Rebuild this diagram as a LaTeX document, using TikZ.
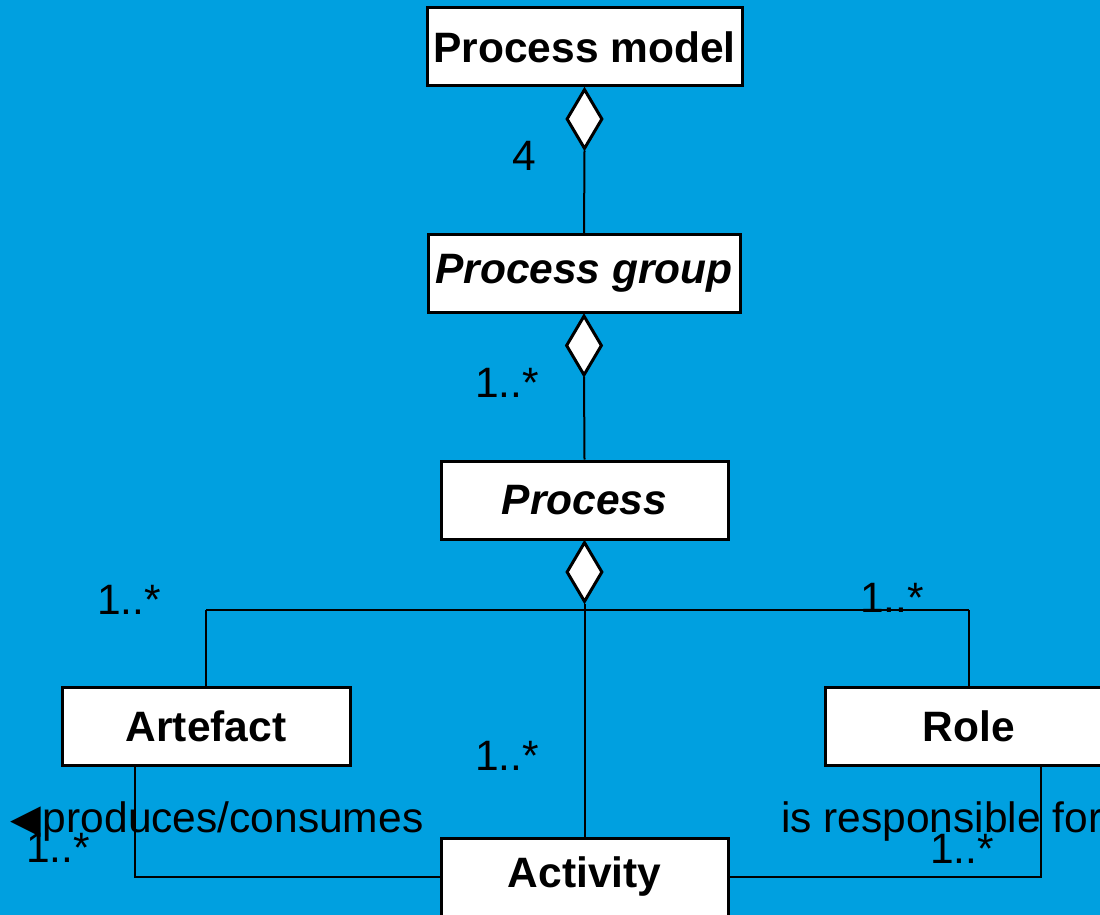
\documentclass[tikz,border=0pt]{standalone}
\usepackage{fontspec}
\setmainfont{Liberation Sans}
\newfontfamily\symfont{DejaVu Sans}
\usetikzlibrary{shapes.geometric}
\definecolor{bgblue}{RGB}{0,160,224}
\tikzset{
  classbox/.style={draw=black, line width=3pt, fill=white, inner sep=0pt,
    minimum height=78pt, font=\fontsize{42.5}{50}\selectfont\bfseries},
  agg/.style={draw=black, line width=3pt, fill=white, diamond, inner sep=0pt,
    minimum width=36pt, minimum height=60pt, aspect=0.6},
  link/.style={draw=black, line width=2pt},
  mult/.style={inner sep=0pt, anchor=base west, font=\fontsize{42.5}{50}\selectfont},
}
\begin{document}
\begin{tikzpicture}[x=1pt,y=-1pt]
\useasboundingbox (0,0) rectangle (1100,915);
\clip (0,0) rectangle (1100,915);
\fill[bgblue] (0,0) rectangle (1100,915);

% classes
\node[classbox, minimum width=315pt] (model) at (584.5,47) {Process model};
\node[classbox, minimum width=312pt] (group) at (584,273.5) {\itshape Process group};
\node[classbox, minimum width=287pt] (proc) at (584.5,500) {\itshape Process};
\node[classbox, minimum width=288pt] (art) at (206,726) {Artefact};
\node[classbox, minimum width=288pt] (role) at (969,726) {Role};
\node[classbox, minimum width=287pt] (act) at (584.5,877) {Activity};

% aggregation diamonds
\node[agg, anchor=north] (d1) at (model.south) {};
\node[agg, anchor=north] (d2) at (group.south) {};
\node[agg, anchor=north] (d3) at (proc.south) {};

\coordinate (barL) at (206,610);
\coordinate (barR) at (969,610);
\coordinate (artDown) at (135,877);
\coordinate (roleDown) at (1041,877);

\draw[link] (d1.south) -- (group.north);
\draw[link] (d2.south) -- (proc.north);
\draw[link] (d3.south) -- (act.north);
\draw[link] (barL) -- (barR);
\draw[link] (barL) -- (art.north);
\draw[link] (barR) -- (role.north);
\draw[link] (art.south -| artDown) -- (artDown) -- (act.west);
\draw[link] (role.south -| roleDown) -- (roleDown) -- (act.east);

% multiplicities and association names
\node[mult] (m1) at (512,170) {4};
\node[mult] (m2) at (475,397) {1..*};
\node[mult] (m3) at (97,614) {1..*};
\node[mult] (m4) at (860,612) {1..*};
\node[mult] (m5) at (475,770) {1..*};
\node[mult] (n1) at (10,832) {{\symfont\fontsize{40}{44}\selectfont ◀}\hspace{2pt}produces/consumes};
\node[mult] (m6) at (26,862) {1..*};
\node[mult] (n2) at (781,832) {is responsible for};
\node[mult] (m7) at (930,863) {1..*};
\end{tikzpicture}
\end{document}
